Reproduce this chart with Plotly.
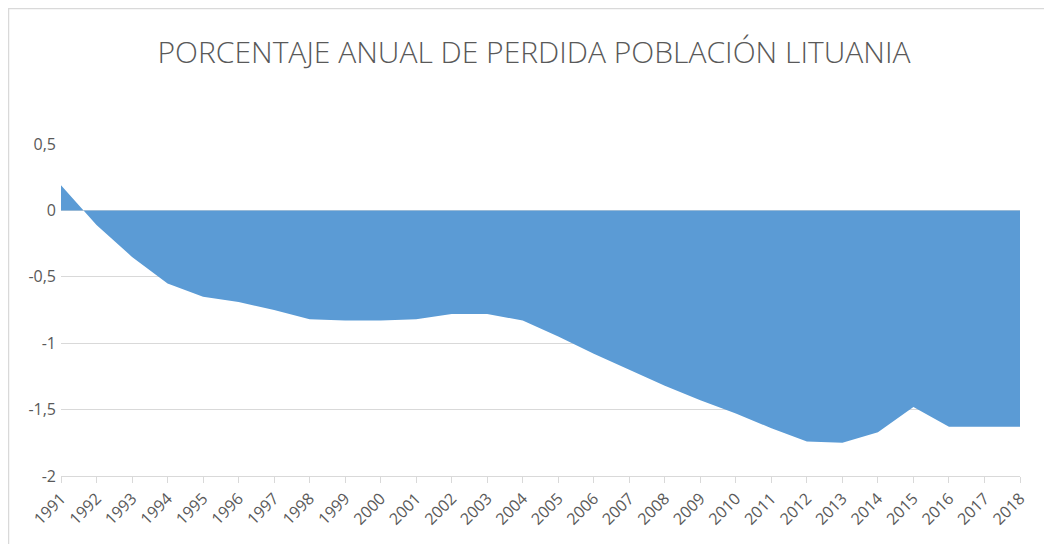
import plotly.graph_objects as go

years = list(range(1991, 2019))
perdida = [0.19, -0.11, -0.35, -0.55, -0.65, -0.69, -0.75, -0.82, -0.83, -0.83,
           -0.82, -0.78, -0.78, -0.83, -0.95, -1.08, -1.20, -1.32, -1.43, -1.53,
           -1.64, -1.74, -1.75, -1.67, -1.48, -1.63, -1.63, -1.63]
y_ticks = [0.5, 0, -0.5, -1, -1.5, -2]
y_labels = ["0,5", "0", "-0,5", "-1", "-1,5", "-2"]

fig = go.Figure()

fig.add_trace(
    go.Scatter(
        x=years,
        y=perdida,
        mode="lines",
        line=dict(width=0, color="#5B9BD5"),
        fill="tozeroy",
        fillcolor="#5B9BD5",
        hoverinfo="x+y",
    )
)

grey = "#595959"
fig.update_layout(
    width=1052,
    height=544,
    paper_bgcolor="white",
    plot_bgcolor="white",
    separators=",.",
    showlegend=False,
    margin=dict(l=53, r=40, t=136, b=76),
    title=dict(
        text="PORCENTAJE ANUAL DE PERDIDA POBLACIÓN LITUANIA",
        x=0.5,
        xanchor="center",
        y=0.919,
        yanchor="middle",
        font=dict(family="Open Sans", size=30, color=grey, weight=300),
    ),
    xaxis=dict(
        range=[1991, 2018],
        tickmode="array",
        tickvals=years,
        ticktext=[str(y) for y in years],
        tickangle=-45,
        ticks="outside",
        ticklen=6,
        tickcolor="#d9d9d9",
        showline=True,
        linecolor="#d9d9d9",
        showgrid=False,
        zeroline=False,
        tickfont=dict(family="Open Sans", size=16, color=grey),
    ),
    yaxis=dict(
        range=[-2, 0.5],
        tickmode="array",
        tickvals=y_ticks,
        ticktext=y_labels,
        showgrid=True,
        gridcolor="#d9d9d9",
        zeroline=False,
        ticks="",
        ticklabelstandoff=4,
        tickfont=dict(family="Open Sans", size=16, color=grey),
    ),
    shapes=[
        dict(
            type="rect",
            xref="paper", yref="paper",
            x0=-52.5 / 959, x1=1.1, y0=-0.4, y1=1 + 135.5 / 332,
            line=dict(color="#d9d9d9", width=1.5),
            fillcolor="rgba(0,0,0,0)",
            layer="below",
        )
    ],
)

fig.write_html("out.html")
